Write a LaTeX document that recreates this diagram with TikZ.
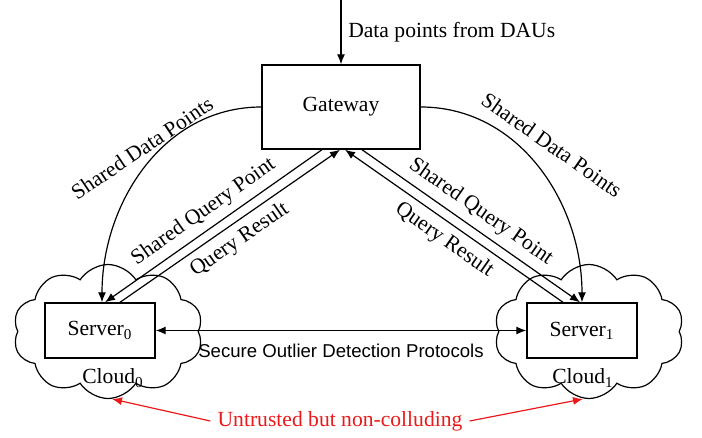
\documentclass[tikz,border=0pt]{standalone}
\usepackage{fontspec}
\setmainfont{Liberation Serif}
\newfontfamily\protofont{Liberation Sans}
\usetikzlibrary{shapes.symbols,arrows.meta}
\definecolor{emphred}{RGB}{235,25,25}

\begin{document}
\begin{tikzpicture}[x=0.5pt,y=0.5pt,>={Latex[length=5pt,width=4pt]},line width=0.6pt,
    every node/.style={font=\fontsize{10.8}{13}\selectfont},
    box/.style={draw,fill=white,line width=0.7pt},
    cloudbox/.style={draw,cloud,cloud puffs=10,cloud puff arc=115,aspect=1.45,minimum width=95pt,minimum height=67pt,inner sep=0pt}]
  \useasboundingbox (0,0) rectangle (702,-438);
  % clouds
  \node[cloudbox] (c0) at (108,-331.5) {};
  \node[cloudbox] (c1) at (589,-331.5) {};
  \node (cl0) at (113,-378) {Cloud\textsubscript{0}};
  \node (cl1) at (583,-378) {Cloud\textsubscript{1}};
  \coordinate (c0b) at (112,-399);
  \coordinate (c1b) at (583,-399);

  \node[box,minimum width=79pt,minimum height=42pt] (gw) at (341,-107) {Gateway};
  \node[box,minimum width=55pt,minimum height=27.5pt] (s0) at (100,-330.5) {Server\textsubscript{0}};
  \node[box,minimum width=55pt,minimum height=27.5pt] (s1) at (582,-330.5) {Server\textsubscript{1}};

  \coordinate (dau) at (341,0);
  \draw[->] (dau) -- node[right] {Data points from DAUs} (gw.north);

  % shared data points
  \draw[->] (gw.west) to[out=180,in=90] ([xshift=1pt]s0.north);
  \draw[->] (gw.east) to[out=0,in=90] (s1.north);
  \node[rotate=34] (sdp0) at (142,-148) {Shared Data Points};
  \node[rotate=-35] (sdp1) at (552,-145) {Shared Data Points};

  % queries
  \coordinate (q0a) at ([xshift=-9.5pt]gw.south);
  \coordinate (q0b) at ([xshift=-0.5pt]gw.south);
  \coordinate (q1a) at ([xshift=2pt]gw.south);
  \coordinate (q1b) at ([xshift=10.5pt]gw.south);
  \draw[<-] ([xshift=2.5pt]s0.north) -- node[sloped,above] {Shared Query Point} (q0a);
  \draw[->] ([xshift=10pt]s0.north) -- node[sloped,below] {Query Result} (q0b);
  \draw[->] (q1b) -- node[sloped,above] {Shared Query Point} ([xshift=-1pt]s1.north);
  \draw[<-] (q1a) -- node[sloped,below] {Query Result} ([xshift=-9.5pt]s1.north);

  \draw[<->] (s0.east) -- node[below=3pt,font=\protofont\fontsize{9.3}{11}\selectfont] {Secure Outlier Detection Protocols} (s1.west);

  \node[text=emphred] (untr) at (340,-421) {Untrusted but non-colluding};
  \draw[->,emphred] (untr.west) -- (c0b);
  \draw[->,emphred] (untr.east) -- (c1b);
\end{tikzpicture}
\end{document}
